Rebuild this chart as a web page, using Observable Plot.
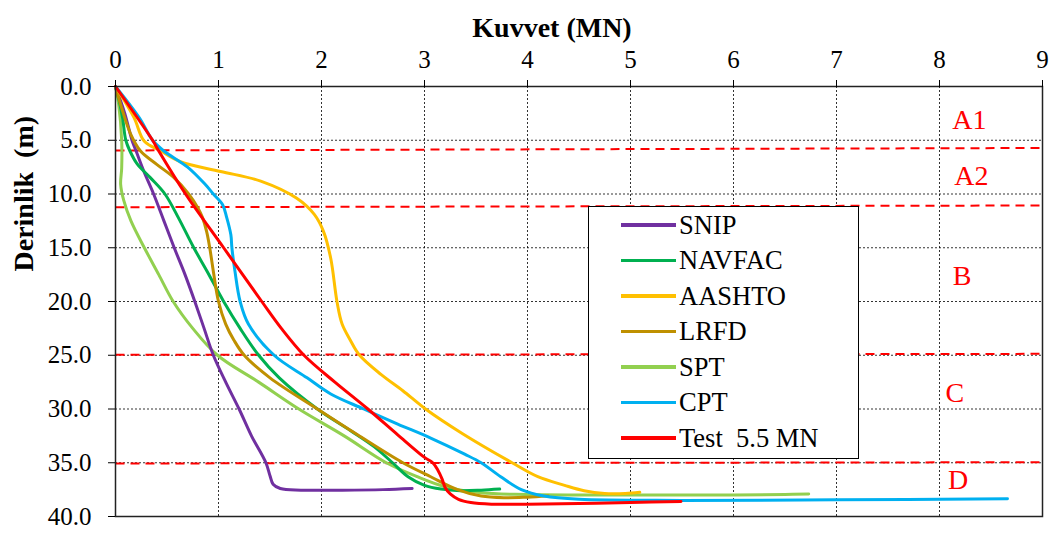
<!DOCTYPE html>
<html><head><meta charset="utf-8">
<script src="https://cdn.jsdelivr.net/npm/d3@7"></script>
<script src="https://cdn.jsdelivr.net/npm/@observablehq/plot@0.6"></script>
<style>
body{margin:0;background:#fff;}
#wrap{position:relative;width:1053px;height:534px;}
#legend{position:absolute;left:588px;top:206px;width:271px;height:253px;border:1.5px solid #000;background:#fff;box-sizing:border-box;font-family:"Liberation Serif","Times New Roman",serif;font-size:26.5px;color:#000;}
.item{position:absolute;left:32px;height:30px;display:flex;align-items:center;white-space:pre;}
.swatch{width:55px;height:3.5px;margin-right:3px;}
</style>
</head><body>
<div id="wrap"><div id="legend"></div></div>
<script>
// Tick values
const xTicks = [0,1,2,3,4,5,6,7,8,9];
const yTicks = [0,5,10,15,20,25,30,35,40];

// Series (force MN, depth m)
const snipForce  = [0,0.09,0.16,0.2,0.28,0.37,0.47,0.57,0.675,0.77,0.86,0.95,1.07,1.2,1.32,1.46,1.5,1.53,1.6,1.8,2.2,2.6,2.88];
const snipDepth  = [0,2.5,5,6,8,10,12.5,15,17.5,20,22.5,25,27.5,30,32.5,35,36.2,37,37.4,37.55,37.55,37.5,37.4];

const navfacForce = [0,0.04,0.07,0.10,0.14,0.21,0.34,0.48,0.61,0.76,0.89,1.05,1.21,1.39,1.59,1.96,2.28,2.51,2.69,2.84,3.0,3.16,3.35,3.55,3.73];
const navfacDepth = [0,1.5,3,5,6,7.2,8.5,10,12.2,15,17.2,20,22.5,25,27.1,30,32,33.5,35,36.3,37.1,37.45,37.6,37.55,37.45];

const aashtoForce = [0,0.18,0.28,0.44,0.63,1.02,1.41,1.76,1.93,2.02,2.09,2.15,2.2,2.28,2.37,2.58,2.79,3.01,3.37,3.85,4.1,4.36,4.55,4.75,4.95,5.09];
const aashtoDepth = [0,2.9,5.1,6,7,7.9,8.8,10.4,11.9,13.5,16,20,22.1,23.6,25,26.8,28.3,30,32.3,35,36.3,37.1,37.6,37.85,37.85,37.75];

const lrfdForce = [0,0.06,0.146,0.243,0.40,0.57,0.71,0.80,0.845,0.885,0.915,0.95,1.0,1.07,1.15,1.25,1.5,1.96,2.35,2.79,3.06,3.32,3.55,3.78,4.0,4.2];
const lrfdDepth = [0,2,4.4,6,7.24,8.5,10,11.3,12.2,13.5,15,17.2,20,22.1,23.6,25,27.1,30,32.4,35,36.3,37.5,38.1,38.25,38.2,38.1];

const sptForce = [0,0.03,0.06,0.06,0.05,0.08,0.15,0.28,0.42,0.56,0.75,0.99,1.39,1.78,2.22,2.63,2.93,3.19,3.55,4.0,5.0,6.0,6.5,6.73];
const sptDepth = [0,1.6,5,7.6,9.1,10.6,12.5,15,17.5,20,22.5,25,27.5,30,32.5,35,36.3,37.2,37.8,37.95,38,38,37.95,37.9];

const cptForce = [0,0.23,0.36,0.47,0.7,0.87,0.95,1.04,1.08,1.12,1.13,1.16,1.21,1.29,1.54,1.86,2.09,2.41,2.74,3.06,3.39,3.55,3.74,3.94,4.16,4.5,5.5,7.0,8.66];
const cptDepth = [0,2.9,5,6,7.5,9.1,10,11,12.2,13.8,15,17.2,20,22.1,25,27.1,28.6,30,31.4,32.7,34.2,35,36.3,37.5,38.1,38.4,38.5,38.45,38.35];

const testForce = [0,0.36,0.42,0.68,1.05,1.42,1.61,1.83,2.13,2.45,2.74,3.0,3.08,3.13,3.17,3.2,3.25,3.33,3.45,3.65,4.0,4.5,5.0,5.49];
const testDepth = [0,5,6,10,15,20,22.5,25,27.5,30,32.4,34.5,35,35.7,36.5,37.3,37.9,38.4,38.7,38.85,38.85,38.8,38.7,38.6];

const seriesNames  = ["SNIP","NAVFAC","AASHTO","LRFD","SPT","CPT","Test  5.5 MN"];
const seriesColors = ["#7030A0","#00B050","#FFC000","#BF9000","#92D050","#00B0F0","#FF0000"];
const seriesForce  = [snipForce,navfacForce,aashtoForce,lrfdForce,sptForce,cptForce,testForce];
const seriesDepth  = [snipDepth,navfacDepth,aashtoDepth,lrfdDepth,sptDepth,cptDepth,testDepth];
const drawOrder = [4,0,1,3,2,5,6];

// Zone boundaries (depth at x=0 and x=9) and labels
const boundLeft  = [5.95,11.23,24.96,35.07];
const boundRight = [5.72,11.07,24.87,34.95];
const zoneLabels = ["A1","A2","B","C","D"];
const zoneX = [8.29,8.31,8.22,8.15,8.18];
const zoneY = [3.16,8.37,17.6,28.56,36.65];

const serif = "Liberation Serif, Times New Roman, serif";

const lineMarks = drawOrder.map(i => Plot.line(
  seriesForce[i].map((f,j)=>({force:f, depth:seriesDepth[i][j]})),
  {x:"force", y:"depth", stroke:seriesColors[i], strokeWidth:3, curve:"catmull-rom"}
));

const chart = Plot.plot({
  width:1053, height:534,
  marginTop:86, marginLeft:115, marginRight:11, marginBottom:18,
  style:{fontFamily:serif, background:"#fff", color:"#000"},
  x:{domain:[0,9]},
  y:{domain:[0,40], reverse:true},
  marks:[
    Plot.gridX(xTicks, {stroke:"#000", strokeOpacity:0.8, strokeDasharray:"2,2"}),
    Plot.gridY(yTicks, {stroke:"#000", strokeOpacity:0.8, strokeDasharray:"2,2"}),
    Plot.link(boundLeft, {x1:()=>0, x2:()=>9, y1:boundLeft, y2:boundRight, stroke:"#FF0000", strokeWidth:2, strokeDasharray:"9,6"}),
    ...lineMarks,
    Plot.frame({stroke:"#222", strokeWidth:1.5}),
    Plot.axisX(xTicks, {anchor:"top", tickSize:7, tickPadding:12, fontSize:25, label:null}),
    Plot.axisY(yTicks, {anchor:"left", tickSize:7, tickPadding:17, fontSize:25, tickFormat:d3.format(".1f"), label:null}),
    Plot.text(zoneLabels, {x:zoneX, y:zoneY, text:zoneLabels, fill:"#FF0000", fontSize:28}),
    Plot.text(["Kuvvet (MN)"], {frameAnchor:"top", dx:-27, dy:-69, fontSize:28, fontWeight:"bold"}),
    Plot.text(["Derinlik\u00a0 (m)"], {frameAnchor:"left", rotate:-90, dx:-91, dy:-30, fontSize:28, fontWeight:"bold"})
  ]
});
const wrap = document.getElementById("wrap");
wrap.insertBefore(chart, wrap.firstChild);

const legend = document.getElementById("legend");
seriesNames.forEach((name,i)=>{
  const it = document.createElement("div");
  it.className = "item";
  it.style.top = (18 + i*35.5 - 15) + "px";
  const sw = document.createElement("div");
  sw.className = "swatch";
  sw.style.background = seriesColors[i];
  const tx = document.createElement("span");
  tx.textContent = name;
  it.appendChild(sw); it.appendChild(tx);
  legend.appendChild(it);
});
</script>
</body></html>
